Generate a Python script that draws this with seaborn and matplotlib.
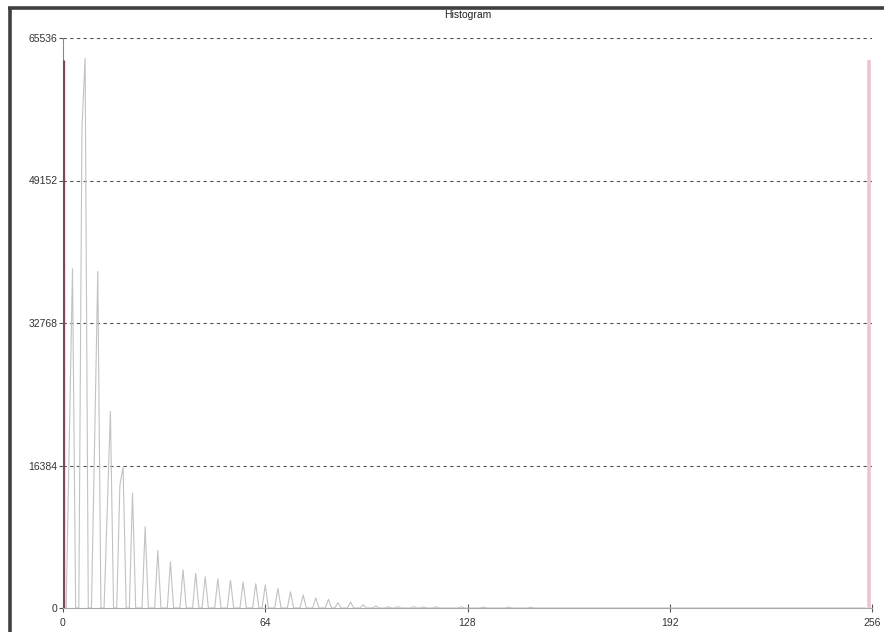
import numpy as np
import pandas as pd
import matplotlib
matplotlib.use("Agg")
import matplotlib.pyplot as plt
from matplotlib.lines import Line2D
import seaborn as sns

# ---- data ----
peak_bins = [0, 2, 3, 6, 7, 10, 11, 14, 15, 18, 19, 22, 26, 30, 34, 38, 42, 45,
             49, 53, 57, 61, 64, 68, 72, 76, 80, 84, 87, 91, 95, 99, 103, 106,
             111, 114, 118, 126, 133, 141, 148, 255]
peak_counts = [63000, 19300, 39000, 55300, 63200, 19000, 38700, 11300, 22600,
               14100, 16200, 13200, 9350, 6600, 5300, 4400, 4000, 3600,
               3350, 3200, 3000, 2800, 2650, 2250, 1870, 1500, 1150, 1000, 620,
               690, 380, 230, 150, 150, 150, 120, 150, 150, 100, 100, 80, 63000]
x_ticks = [0, 64, 128, 192, 256]
y_ticks = [0, 16384, 32768, 49152, 65536]
title = "Histogram"

levels = np.arange(256)
counts = np.zeros(256)
for b, c in zip(peak_bins, peak_counts):
    counts[b] = c
df = pd.DataFrame({"level": levels, "count": counts})
inner = df.iloc[1:255]

sns.set_theme(style="white")
plt.rcParams["font.family"] = ["Liberation Sans", "DejaVu Sans"]

W, H = 884, 632
fig = plt.figure(figsize=(W / 100, H / 100), dpi=100)
fig.patch.set_facecolor("white")
ax = fig.add_axes([63 / W, 1 - 608 / H, (872 - 63) / W, (608 - 38) / H])
ax.set_facecolor("white")

sns.lineplot(data=inner, x="level", y="count", ax=ax, color="#c2c2c2",
             linewidth=0.8, estimator=None)

# coloured end bins
ax.vlines(levels[0], 0, counts[0], color="#7d4858", linewidth=2.4, zorder=4)
ax.vlines(levels[255], 0, counts[255], color="#eec4d0", linewidth=2.6, zorder=4)

ax.set_xlim(0, 256)
ax.set_ylim(0, 65536)
ax.set_xticks(x_ticks)
ax.set_yticks(y_ticks)
ax.set_xticklabels([str(t) for t in x_ticks])
ax.set_yticklabels([str(t) for t in y_ticks])
ax.set_xlabel("")
ax.set_ylabel("")

for t in y_ticks[1:]:
    ax.axhline(t, color="#555555", linewidth=0.8, linestyle=(0, (3, 3)), zorder=1)

for s in ["top", "right"]:
    ax.spines[s].set_visible(False)
ax.spines["left"].set_color("#888888")
ax.spines["left"].set_linewidth(0.8)
ax.spines["bottom"].set_color("#aaaaaa")
ax.spines["bottom"].set_linewidth(0.8)

ax.tick_params(axis="y", direction="out", length=3, width=0.8, color="#555555",
               labelsize=7.5, labelcolor="#333333", pad=1, left=True)
ax.tick_params(axis="x", direction="inout", length=6, width=0.8, color="#555555",
               labelsize=7.5, labelcolor="#333333", pad=4, bottom=True)

fig.text(467.5 / W, 1 - 14.5 / H, title, fontsize=7.5, color="#222222",
         ha="center", va="center")

# sunken window border
fig.add_artist(Line2D([9.5 / W, 9.5 / W], [0, 1 - 7 / H], transform=fig.transFigure,
                      color="#404040", linewidth=2.6, solid_capstyle="butt"))
fig.add_artist(Line2D([8 / W, 1], [1 - 8 / H, 1 - 8 / H], transform=fig.transFigure,
                      color="#404040", linewidth=2.6, solid_capstyle="butt"))
ax.grid(False)

fig.savefig("out.png", dpi=100, facecolor="white")
